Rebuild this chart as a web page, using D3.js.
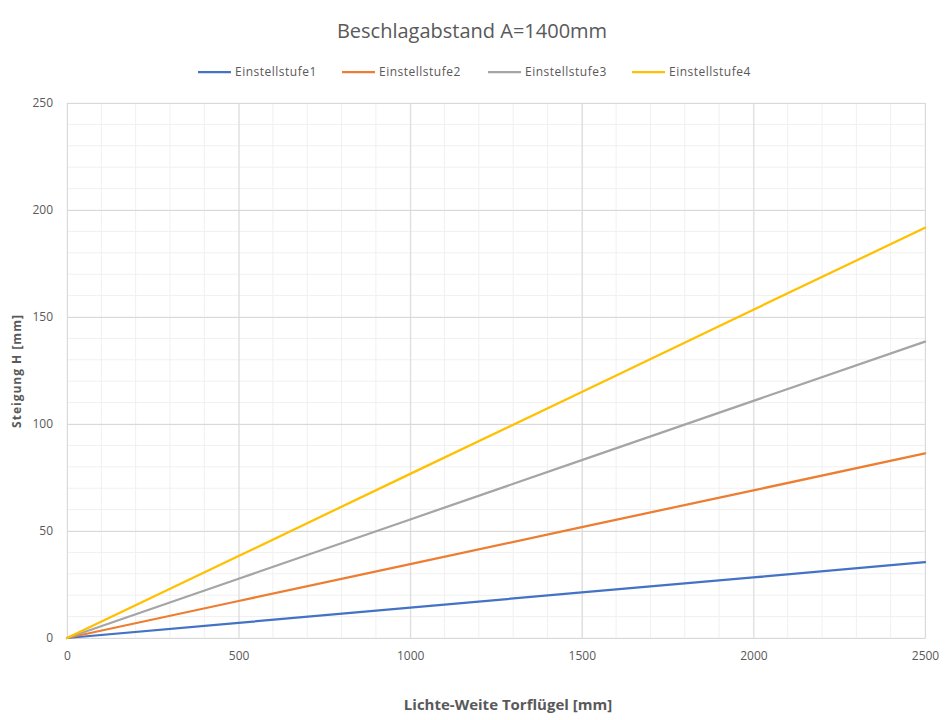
<!DOCTYPE html>
<html><head><meta charset="utf-8">
<script src="https://cdn.jsdelivr.net/npm/d3@7"></script>
<style>body{margin:0;background:#fff}svg{display:block}text{font-family:"Open Sans","Liberation Sans",sans-serif}</style>
</head><body><svg id="c" width="952" height="720"></svg>
<script>
const xValues = [0, 500, 1000, 1500, 2000, 2500];
const seriesNames = ["Einstellstufe1", "Einstellstufe2", "Einstellstufe3", "Einstellstufe4"];
const stufe1 = [0, 7.1, 14.2, 21.3, 28.3, 35.4];
const stufe2 = [0, 17.3, 34.5, 51.8, 69.0, 86.3];
const stufe3 = [0, 27.7, 55.4, 83.1, 110.8, 138.5];
const stufe4 = [0, 38.3, 76.7, 115.0, 153.4, 191.7];
const xTicks = [0, 500, 1000, 1500, 2000, 2500];
const yTicks = [0, 50, 100, 150, 200, 250];
const colors = ["#4472C4", "#ED7D31", "#A5A5A5", "#FFC000"];
const title = "Beschlagabstand A=1400mm";
const xTitle = "Lichte-Weite Torflügel [mm]";
const yTitle = "Steigung H [mm]";

const svg = d3.select("#c");
const x = d3.scaleLinear().domain([0, 2500]).range([67, 925]);
const y = d3.scaleLinear().domain([0, 250]).range([638, 103]);

// minor grid
const g = svg.append("g");
g.selectAll(".mx").data(d3.range(0, 2501, 100)).join("line")
  .attr("x1", d => x(d)).attr("x2", d => x(d)).attr("y1", y(0)).attr("y2", y(250))
  .attr("stroke", "#f0f0f0").attr("stroke-width", 1);
g.selectAll(".my").data(d3.range(0, 251, 10)).join("line")
  .attr("y1", d => y(d)).attr("y2", d => y(d)).attr("x1", x(0)).attr("x2", x(2500))
  .attr("stroke", "#f0f0f0").attr("stroke-width", 1);
// major grid
g.append("g").attr("transform", `translate(0,${y(0)})`)
  .call(d3.axisBottom(x).tickValues(xTicks).tickSize(-(y(0) - y(250))).tickFormat(""))
  .call(a => a.select(".domain").remove())
  .call(a => a.selectAll("line").attr("stroke", "#d9d9d9"));
g.append("g").attr("transform", `translate(${x(0)},0)`)
  .call(d3.axisLeft(y).tickValues(yTicks).tickSize(-(x(2500) - x(0))).tickFormat(""))
  .call(a => a.select(".domain").remove())
  .call(a => a.selectAll("line").attr("stroke", "#d9d9d9"));

// axes labels
const xa = svg.append("g").attr("transform", `translate(0,${y(0)})`)
  .call(d3.axisBottom(x).tickValues(xTicks).tickSize(0).tickPadding(13).tickFormat(d3.format("d")));
xa.select(".domain").attr("stroke", "#d9d9d9");
xa.selectAll("text").attr("fill", "#595959").attr("font-size", "12px");
const ya = svg.append("g").attr("transform", `translate(${x(0)},0)`)
  .call(d3.axisLeft(y).tickValues(yTicks).tickSize(0).tickPadding(14).tickFormat(d3.format("d")));
ya.select(".domain").attr("stroke", "#d9d9d9");
ya.selectAll("text").attr("fill", "#595959").attr("font-size", "12px");

// lines
const allSeries = [stufe1, stufe2, stufe3, stufe4];
const line = d3.line().x((d, i) => x(xValues[i])).y(d => y(d));
svg.append("g").selectAll("path").data(allSeries).join("path")
  .attr("d", d => line(d)).attr("fill", "none")
  .attr("stroke", (d, i) => colors[i]).attr("stroke-width", 2.25).attr("stroke-linecap", "round");

// title
svg.append("text").attr("x", 472).attr("y", 38).attr("text-anchor", "middle")
  .attr("font-size", "20px").attr("fill", "#595959").text(title);

// legend
const legX = [198, 342, 488, 632];
const lg = svg.append("g").selectAll("g").data(seriesNames).join("g")
  .attr("transform", (d, i) => `translate(${legX[i]},72)`);
lg.append("line").attr("x1", 0).attr("x2", 33).attr("stroke", (d, i) => colors[i]).attr("stroke-width", 2.25);
lg.append("text").attr("x", 37).attr("y", 4).attr("font-size", "12px").attr("letter-spacing", "0.5px")
  .attr("fill", "#595959").text(d => d);

// axis titles
svg.append("text").attr("x", 508).attr("y", 710).attr("text-anchor", "middle")
  .attr("font-size", "15px").attr("font-weight", "bold").attr("fill", "#595959").text(xTitle);
svg.append("text").attr("transform", "translate(21,371) rotate(-90)").attr("text-anchor", "middle")
  .attr("font-size", "12px").attr("font-weight", "bold").attr("letter-spacing", "1px")
  .attr("fill", "#595959").text(yTitle);
</script></body></html>
